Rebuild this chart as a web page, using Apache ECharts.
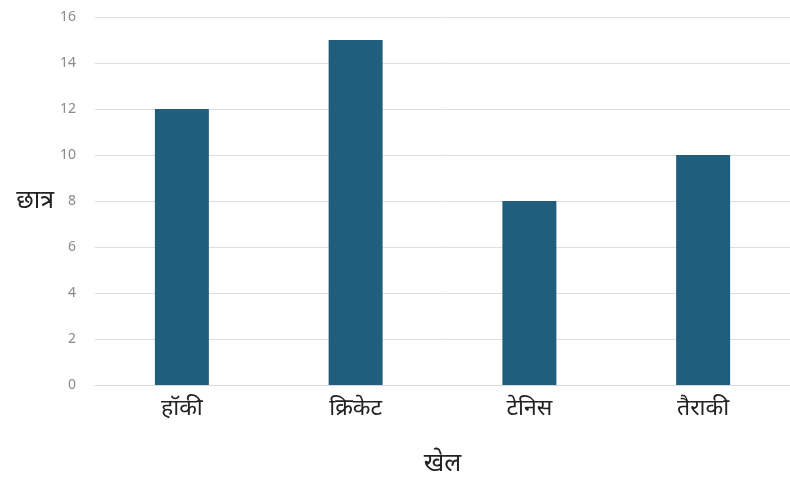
<!DOCTYPE html>
<html><head><meta charset="utf-8">
<script src="https://cdn.jsdelivr.net/npm/echarts@6/dist/echarts.min.js"></script>
<style>html,body{margin:0;padding:0;background:#fff}#c{width:790px;height:481px}</style>
</head><body><div id="c"></div>
<script>
const categories = ['हॉकी', 'क्रिकेट', 'टेनिस', 'तैराकी'];
const values = [12, 15, 8, 10];
const yTicks = [0, 2, 4, 6, 8, 10, 12, 14, 16];

const chart = echarts.init(document.getElementById('c'));
chart.setOption({
  animation: false,
  grid: { left: 95, right: 0, top: 17, bottom: 96, containLabel: false, outerBoundsMode: 'none' },
  xAxis: {
    type: 'category',
    data: categories,
    name: 'खेल',
    nameLocation: 'middle',
    nameGap: 66,
    nameTextStyle: { fontSize: 25, color: '#222', fontFamily: 'Noto Sans, sans-serif' },
    axisLine: { lineStyle: { color: '#d9d9d9', width: 1 } },
    axisTick: { show: false },
    axisLabel: { fontSize: 23, color: '#222', margin: 12, fontFamily: 'Noto Sans, sans-serif' }
  },
  yAxis: {
    type: 'value',
    min: 0, max: 16, interval: 2,
    name: 'छात्र',
    nameLocation: 'middle',
    nameRotate: 0,
    nameGap: 37,
    nameTextStyle: { fontSize: 25, color: '#222', fontFamily: 'Noto Sans, sans-serif' },
    axisLine: { show: false },
    axisTick: { show: false },
    axisLabel: { fontSize: 14, color: '#8a8a8a', margin: 19, fontFamily: 'Noto Sans, sans-serif',
      formatter: v => yTicks.includes(v) ? String(v) : '' },
    splitLine: { lineStyle: { color: '#dedede', width: 1 } }
  },
  series: [{
    type: 'bar',
    data: values,
    barWidth: 54,
    itemStyle: { color: '#1f5e7d' }
  }]
});
</script></body></html>
